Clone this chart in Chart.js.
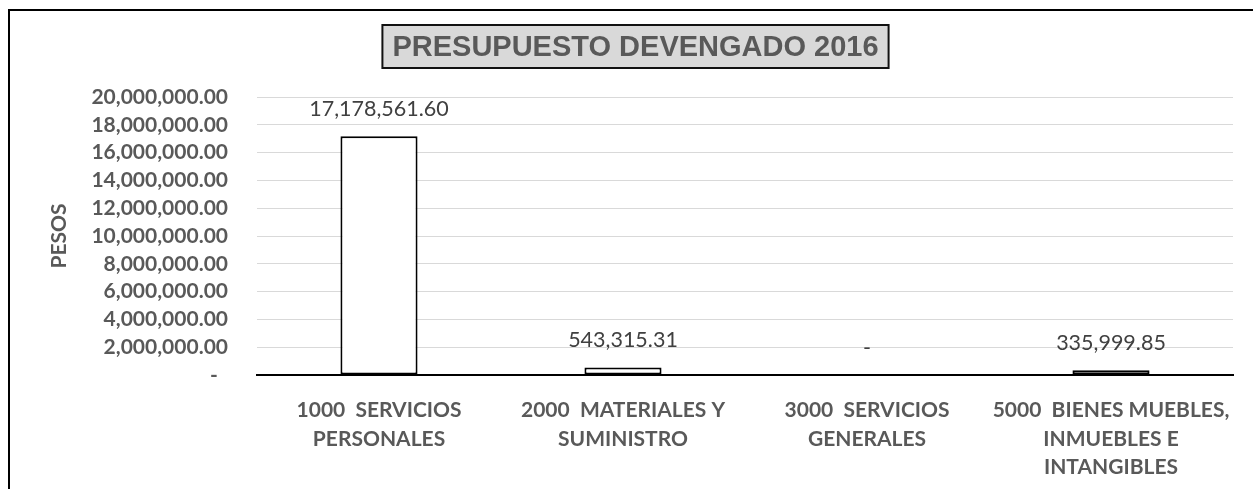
<!DOCTYPE html>
<html>
<head>
<meta charset="utf-8">
<script src="https://cdn.jsdelivr.net/npm/chart.js@4/dist/chart.umd.min.js"></script>
<style>
  body { margin: 0; background: #fff; }
  #frame { position: absolute; left: 8px; top: 9px; width: 1300px; height: 600px;
           border-left: 2px solid #000; border-top: 2px solid #000; }
  #wrap { position: absolute; left: 0; top: 0; width: 1253px; height: 489px; }
</style>
</head>
<body>
<div id="frame"></div>
<div id="wrap"><canvas id="chart"></canvas></div>
<script>
// chart data
const chartTitle = "PRESUPUESTO DEVENGADO 2016";
const yAxisTitle = "PESOS";
const categories = [
    ["1000  SERVICIOS", "PERSONALES"],
    ["2000  MATERIALES Y", "SUMINISTRO"],
    ["3000  SERVICIOS", "GENERALES"],
    ["5000  BIENES MUEBLES,", "INMUEBLES E", "INTANGIBLES"]
];
const devengado = [17178561.60, 543315.31, 0, 335999.85];
const yMin = 0, yMax = 20000000, yStep = 2000000;

const textGray = "#595959";
const labelFont = "Lato, 'Open Sans', sans-serif";

function pesos(v){
    if(v === 0) return "-";
    return v.toLocaleString("en-US", {minimumFractionDigits: 2, maximumFractionDigits: 2});
}

// grey title box, drawn before everything else
const titleBox = {
    id: "titleBox",
    beforeDraw(chart){
        const ctx = chart.ctx;
        ctx.save();
        ctx.font = "bold 29px 'Liberation Sans', Arial, sans-serif";
        const w = ctx.measureText(chartTitle).width;
        const cx = 635.5, cy = 46.5;
        ctx.fillStyle = "#d9d9d9";
        ctx.strokeStyle = "#111";
        ctx.lineWidth = 2;
        ctx.fillRect(cx - w / 2 - 10, 25, w + 20, 43);
        ctx.strokeRect(cx - w / 2 - 10, 25, w + 20, 43);
        ctx.fillStyle = textGray;
        ctx.textAlign = "center";
        ctx.textBaseline = "middle";
        ctx.fillText(chartTitle, cx, cy + 1);
        ctx.restore();
    }
};

// value labels above the bars
const barLabels = {
    id: "barLabels",
    afterDatasetsDraw(chart){
        const ctx = chart.ctx;
        const meta = chart.getDatasetMeta(0);
        ctx.save();
        ctx.font = "21.5px " + labelFont;
        ctx.fillStyle = "#404040";
        ctx.textAlign = "center";
        ctx.textBaseline = "middle";
        meta.data.forEach((bar, i) => {
            ctx.fillText(pesos(devengado[i]), bar.x, bar.y - 27);
        });
        ctx.restore();
    }
};

new Chart(document.getElementById("chart"), {
    type: "bar",
    data: {
        labels: categories,
        datasets: [{
            label: chartTitle,
            data: devengado,
            backgroundColor: "#ffffff",
            borderColor: "#000000",
            borderWidth: 2,
            borderSkipped: false,
            barPercentage: 0.316,
            categoryPercentage: 1
        }]
    },
    options: {
        responsive: true,
        maintainAspectRatio: false,
        animation: false,
        layout: { padding: { top: 97, right: 20, bottom: 0, left: 0 } },
        plugins: {
            legend: { display: false },
            title: { display: false },
            tooltip: { enabled: false }
        },
        scales: {
            x: {
                afterFit: scale => { scale.height = 114; },
                grid: { display: false },
                border: { display: true, color: "#000", width: 2 },
                ticks: {
                    color: textGray,
                    font: { family: labelFont, size: 21, weight: "bold", lineHeight: 1.36 },
                    padding: 13,
                    maxRotation: 0,
                    autoSkip: false
                }
            },
            y: {
                min: yMin,
                max: yMax,
                afterFit: scale => { scale.width = 257; },
                grid: { color: "#d9d9d9", lineWidth: 1, drawTicks: false },
                border: { display: false },
                ticks: {
                    stepSize: yStep,
                    autoSkip: false,
                    color: textGray,
                    font: { family: labelFont, size: 21, weight: "bold" },
                    padding: 29,
                    callback: v => v === 0 ? "-  " : pesos(v)
                },
                title: {
                    display: true,
                    text: yAxisTitle,
                    color: textGray,
                    font: { family: labelFont, size: 21, weight: "bold", lineHeight: 1.2 },
                    padding: { top: 47, bottom: 0 }
                }
            }
        }
    },
    plugins: [titleBox, barLabels]
});
</script>
</body>
</html>
